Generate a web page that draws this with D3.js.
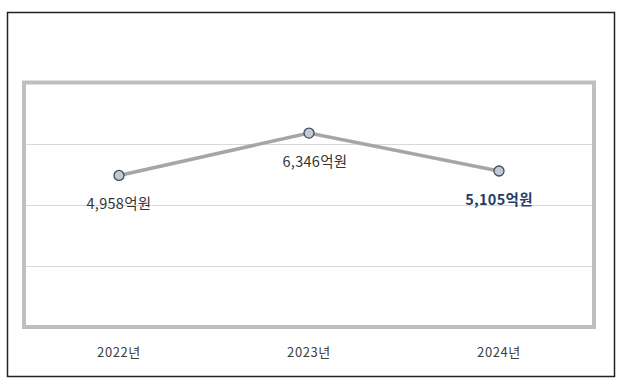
<!DOCTYPE html>
<html>
<head>
<meta charset="utf-8">
<script src="https://d3js.org/d3.v7.min.js"></script>
<style>
body { margin: 0; background: #fff; font-family: "Noto Sans CJK KR", "Noto Sans", sans-serif; }
</style>
</head>
<body>
<script>
// chart values
var years = ["2022년", "2023년", "2024년"];
var amounts = [4958, 6346, 5105];
var yTicks = [0, 2000, 4000, 6000, 8000];

var width = 622, height = 387;

var svg = d3.select("body").append("svg")
  .attr("width", width)
  .attr("height", height);

// outer frame
svg.append("rect")
  .attr("x", 7.5).attr("y", 12.5)
  .attr("width", 607).attr("height", 364)
  .attr("fill", "#fff")
  .attr("stroke", "#222")
  .attr("stroke-width", 1.5);

var plot = { left: 24, right: 594, top: 82.5, bottom: 327 };

var x = d3.scaleBand().domain(years).range([plot.left, plot.right]);
var y = d3.scaleLinear().domain([0, 8000]).range([plot.bottom, plot.top]);

// gridlines
svg.append("g").selectAll("line")
  .data(yTicks.slice(1, -1))
  .enter().append("line")
  .attr("x1", plot.left).attr("x2", plot.right)
  .attr("y1", d => Math.round(y(d)) + 0.5)
  .attr("y2", d => Math.round(y(d)) + 0.5)
  .attr("stroke", "#d9d9d9")
  .attr("stroke-width", 1);

// plot border
svg.append("rect")
  .attr("x", plot.left).attr("y", plot.top)
  .attr("width", plot.right - plot.left)
  .attr("height", plot.bottom - plot.top)
  .attr("fill", "none")
  .attr("stroke", "#bfbfbf")
  .attr("stroke-width", 4);

var cx = (d, i) => x(years[i]) + x.bandwidth() / 2;

var line = d3.line()
  .x((d, i) => cx(d, i))
  .y(d => y(d));

svg.append("path")
  .datum(amounts)
  .attr("d", line)
  .attr("fill", "none")
  .attr("stroke", "#a6a6a6")
  .attr("stroke-width", 3.5);

svg.append("g").selectAll("circle")
  .data(amounts)
  .enter().append("circle")
  .attr("cx", cx)
  .attr("cy", d => y(d))
  .attr("r", 5)
  .attr("fill", "#c3c9d3")
  .attr("stroke", "#3f4b5e")
  .attr("stroke-width", 1.3);

// value labels
svg.append("g").selectAll("text")
  .data(amounts)
  .enter().append("text")
  .attr("x", (d, i) => cx(d, i) + (i === 1 ? 6 : 0))
  .attr("y", d => y(d) + 34)
  .attr("text-anchor", "middle")
  .attr("font-size", 14.5)
  .attr("letter-spacing", 0.3)
  .attr("font-weight", (d, i) => i === 2 ? "bold" : "normal")
  .attr("fill", (d, i) => i === 2 ? "#1f3f66" : "#333")
  .text(d => d3.format(",")(d) + "억원");

// x axis labels
svg.append("g").selectAll("text")
  .data(years)
  .enter().append("text")
  .attr("x", d => x(d) + x.bandwidth() / 2)
  .attr("y", 357)
  .attr("text-anchor", "middle")
  .attr("font-size", 13)
  .attr("letter-spacing", 0.6)
  .attr("fill", "#404040")
  .text(d => d);
</script>
</body>
</html>
